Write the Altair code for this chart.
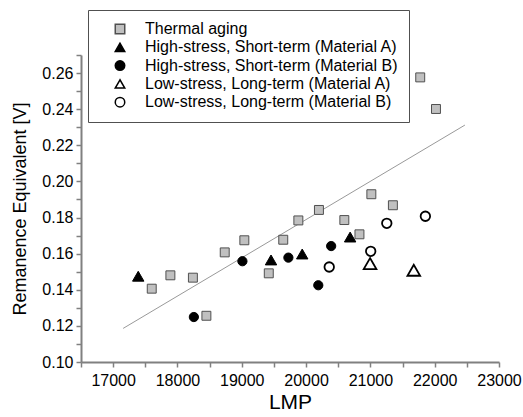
import altair as alt
import pandas as pd

series_names = [
    "Thermal aging",
    "High-stress, Short-term (Material A)",
    "High-stress, Short-term (Material B)",
    "Low-stress, Long-term (Material A)",
    "Low-stress, Long-term (Material B)",
]

thermal_x = [17600, 17890, 18240, 18450, 18735, 19040, 19420, 19645, 19880, 20200, 20595, 20830, 21015, 21350, 21775, 22020]
thermal_y = [0.1406, 0.1480, 0.1467, 0.1256, 0.1607, 0.1674, 0.1491, 0.1677, 0.1784, 0.1842, 0.1786, 0.1707, 0.1929, 0.1868, 0.2576, 0.2401]

hsA_x = [17390, 19455, 19940, 20685]
hsA_y = [0.1475, 0.1565, 0.1598, 0.1692]

hsB_x = [18255, 19010, 19725, 20190, 20390]
hsB_y = [0.1249, 0.1558, 0.1578, 0.1425, 0.1642]

lsA_x = [20995, 21675]
lsA_y = [0.1545, 0.1508]

lsB_x = [20360, 21005, 21255, 21855]
lsB_y = [0.1526, 0.1613, 0.1768, 0.1807]

fit_x = [17155, 22470]
fit_y = [0.1186, 0.2312]

x_ticks = [16500, 17000, 17500, 18000, 18500, 19000, 19500, 20000, 20500, 21000, 21500, 22000, 22500, 23000]
y_ticks = [0.10, 0.11, 0.12, 0.13, 0.14, 0.15, 0.16, 0.17, 0.18, 0.19, 0.20, 0.21, 0.22, 0.23, 0.24, 0.25, 0.26, 0.27]

# styles per series
shapes = ["square", "triangle-up", "circle", "triangle-up", "circle"]
fills = ["#c0c0c0", "black", "black", "white", "white"]
strokes = ["#505050", "black", "black", "black", "black"]
sizes = [80, 130, 85, 160, 90]
stroke_widths = [1, 1, 1, 1.8, 1.8]

rows = []
for i, (name, xs, ys) in enumerate(zip(series_names,
                        [thermal_x, hsA_x, hsB_x, lsA_x, lsB_x],
                        [thermal_y, hsA_y, hsB_y, lsA_y, lsB_y])):
    for xv, yv in zip(xs, ys):
        rows.append({"series": name, "LMP": xv, "V": yv,
                     "sz": sizes[i], "sw": stroke_widths[i]})
pts = pd.DataFrame(rows)
fit = pd.DataFrame({"LMP": fit_x, "V": fit_y})

W, H = 418, 307
FONT = "Liberation Sans"

x_scale = alt.Scale(domain=[16500, 23000], nice=False, zero=False)
y_scale = alt.Scale(domain=[0.10, 0.27], nice=False, zero=False)

x_axis = alt.Axis(
    title="LMP", values=x_ticks, grid=False,
    labelExpr="datum.value % 1000 === 0 ? datum.label : ''",
    format="d", labelFlush=False,
    labelOverlap=False, labelFontSize=16, labelFont=FONT, labelColor="black",
    labelPadding=5, tickSize=5, tickColor="#808080", tickWidth=1.5,
    domainColor="#808080", domainWidth=2,
    titleFont=FONT, titleFontSize=21, titleFontWeight="normal", titleColor="black",
    titlePadding=3,
)
y_axis = alt.Axis(
    title="Remanence Equivalent [V]", values=y_ticks, grid=False,
    labelExpr="round(datum.value * 100) % 2 === 0 ? datum.label : ''",
    format=".2f", labelFlush=False,
    labelOverlap=False, labelFontSize=16, labelFont=FONT, labelColor="black",
    labelPadding=3, tickSize=5, tickColor="#808080", tickWidth=1.5,
    domainColor="#808080", domainWidth=2,
    titleFont=FONT, titleFontSize=18, titleFontWeight="normal", titleColor="black",
    titlePadding=12,
)

X = alt.X("LMP:Q", scale=x_scale, axis=x_axis)
Y = alt.Y("V:Q", scale=y_scale, axis=y_axis)

line = alt.Chart(fit).mark_line(color="#999999", strokeWidth=1).encode(x=X, y=Y)

legend = alt.Legend(
    title=None, orient="none", legendX=7, legendY=-45,
    strokeColor="#505050", fillColor="white", padding=11,
    labelFont=FONT, labelFontSize=16, labelColor="black", labelLimit=400,
    symbolOffset=13, labelOffset=17, rowPadding=2.3, symbolSize=90,
    symbolStrokeWidth=1.5,
)

points = alt.Chart(pts).mark_point(filled=False, opacity=1).encode(
    x=X,
    y=Y,
    shape=alt.Shape("series:N", scale=alt.Scale(domain=series_names, range=shapes), legend=legend),
    fill=alt.Fill("series:N", scale=alt.Scale(domain=series_names, range=fills), legend=legend),
    stroke=alt.Stroke("series:N", scale=alt.Scale(domain=series_names, range=strokes), legend=legend),
    size=alt.Size("sz:Q", scale=None),
    strokeWidth=alt.StrokeWidth("sw:Q", scale=None),
)

chart = alt.layer(line, points).properties(
    width=W, height=H,
    autosize=alt.AutoSizeParams(type="none"),
    padding={"left": 81, "top": 55, "right": 24, "bottom": 55},
).configure_view(stroke=None)

chart.save("out.html", embed_options={"renderer": "svg", "actions": False})
